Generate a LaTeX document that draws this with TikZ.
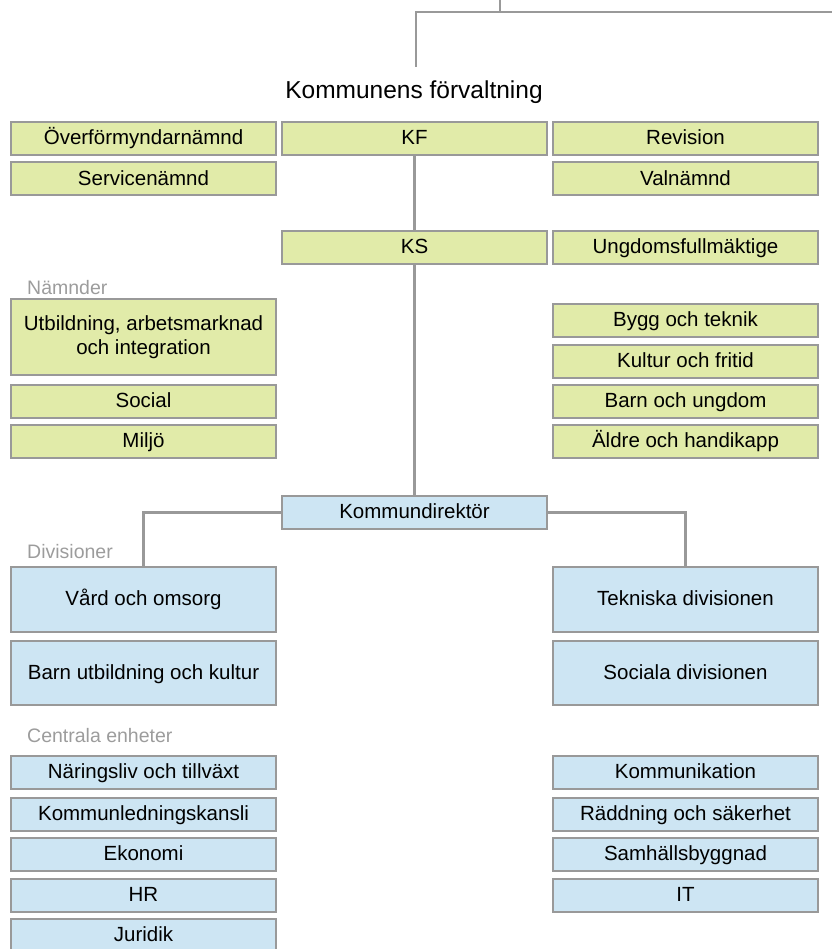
\documentclass[tikz,border=0pt]{standalone}
\usepackage{fontspec}
\setmainfont{Liberation Sans}
\usepackage{xcolor}
\usepackage{tikz}
\usetikzlibrary{positioning}
\definecolor{boardGreen}{HTML}{E1EBA9}
\definecolor{officeBlue}{HTML}{CDE5F3}
\definecolor{lineGray}{HTML}{999999}
\definecolor{labelGray}{HTML}{9C9C9C}

\begin{document}
\begin{tikzpicture}[
    x=1pt, y=-1pt,
    unit/.style={draw=lineGray, line width=2pt, minimum width=265pt, minimum height=33pt, inner sep=0pt, font=\fontsize{20.5}{24}\selectfont},
    board/.style={unit, fill=boardGreen, text height=15pt, text depth=2.5pt},
    office/.style={unit, fill=officeBlue, text height=15pt, text depth=2.5pt},
    grouplbl/.style={anchor=west, inner sep=0pt, text=labelGray, font=\fontsize{19.5}{20}\selectfont},
    link/.style={draw=lineGray, line width=2.5pt}
  ]
  \useasboundingbox (0,0) rectangle (831,949);

  % top branch
  \coordinate (up) at (500,-3);
  \coordinate (farright) at (834,12);
  \coordinate (drop) at (416,67);
  \draw[link] (up) |- (farright);
  \draw[link] (farright) -| (drop);

  \node[font=\fontsize{24.5}{28}\selectfont] (title) at (414,92) {Kommunens förvaltning};

  % politics
  \node[board] (overf) at (143.5,138.5) {Överförmyndarnämnd};
  \node[board] (kf)    at (414.5,138.5) {KF};
  \node[board] (rev)   at (685.5,138.5) {Revision};
  \node[board] (serv)  at (143.5,179)   {Servicenämnd};
  \node[board] (valn)  at (685.5,179)   {Valnämnd};
  \node[board] (ks)    at (414.5,247.5) {KS};
  \node[board] (ungd)  at (685.5,247.5) {Ungdomsfullmäktige};

  \node[grouplbl] (lblnamnd) at (27,288) {Nämnder};
  \node[unit, fill=boardGreen, minimum height=76pt, align=center] (utb) at (143.5,337) {Utbildning, arbetsmarknad\\och integration};
  \node[board] (soc)   at (143.5,401.5) {Social};
  \node[board] (milj)  at (143.5,441.5) {Miljö};
  \node[board] (bygg)  at (685.5,320)   {Bygg och teknik};
  \node[board] (kult)  at (685.5,361)   {Kultur och fritid};
  \node[board] (barnu) at (685.5,401.5) {Barn och ungdom};
  \node[board] (aldre) at (685.5,441.5) {Äldre och handikapp};

  % administration
  \node[office] (kdir) at (414.5,512.5) {Kommundirektör};

  \node[grouplbl] (lbldiv) at (27,552) {Divisioner};
  \node[office, minimum height=65pt] (vard)  at (143.5,599.5) {Vård och omsorg};
  \node[office, minimum height=64pt] (barnk) at (143.5,673)   {Barn utbildning och kultur};
  \node[office, minimum height=65pt] (tekn)  at (685.5,599.5) {Tekniska divisionen};
  \node[office, minimum height=64pt] (socd)  at (685.5,673)   {Sociala divisionen};

  \node[grouplbl] (lblcent) at (27,736) {Centrala enheter};
  \node[office] (nar)   at (143.5,772.5) {Näringsliv och tillväxt};
  \node[office] (kled)  at (143.5,814)   {Kommunledningskansli};
  \node[office] (ekon)  at (143.5,854.5) {Ekonomi};
  \node[office] (hr)    at (143.5,895.5) {HR};
  \node[office] (jur)   at (143.5,935.5) {Juridik};
  \node[office] (komm)  at (685.5,772.5) {Kommunikation};
  \node[office] (radd)  at (685.5,814)   {Räddning och säkerhet};
  \node[office] (samh)  at (685.5,854.5) {Samhällsbyggnad};
  \node[office] (it)    at (685.5,895.5) {IT};

  \draw[link] (kf) -- (ks);
  \draw[link] (ks) -- (kdir);
  \draw[link] (kdir.west) -| (vard.north);
  \draw[link] (kdir.east) -| (tekn.north);
\end{tikzpicture}
\end{document}
